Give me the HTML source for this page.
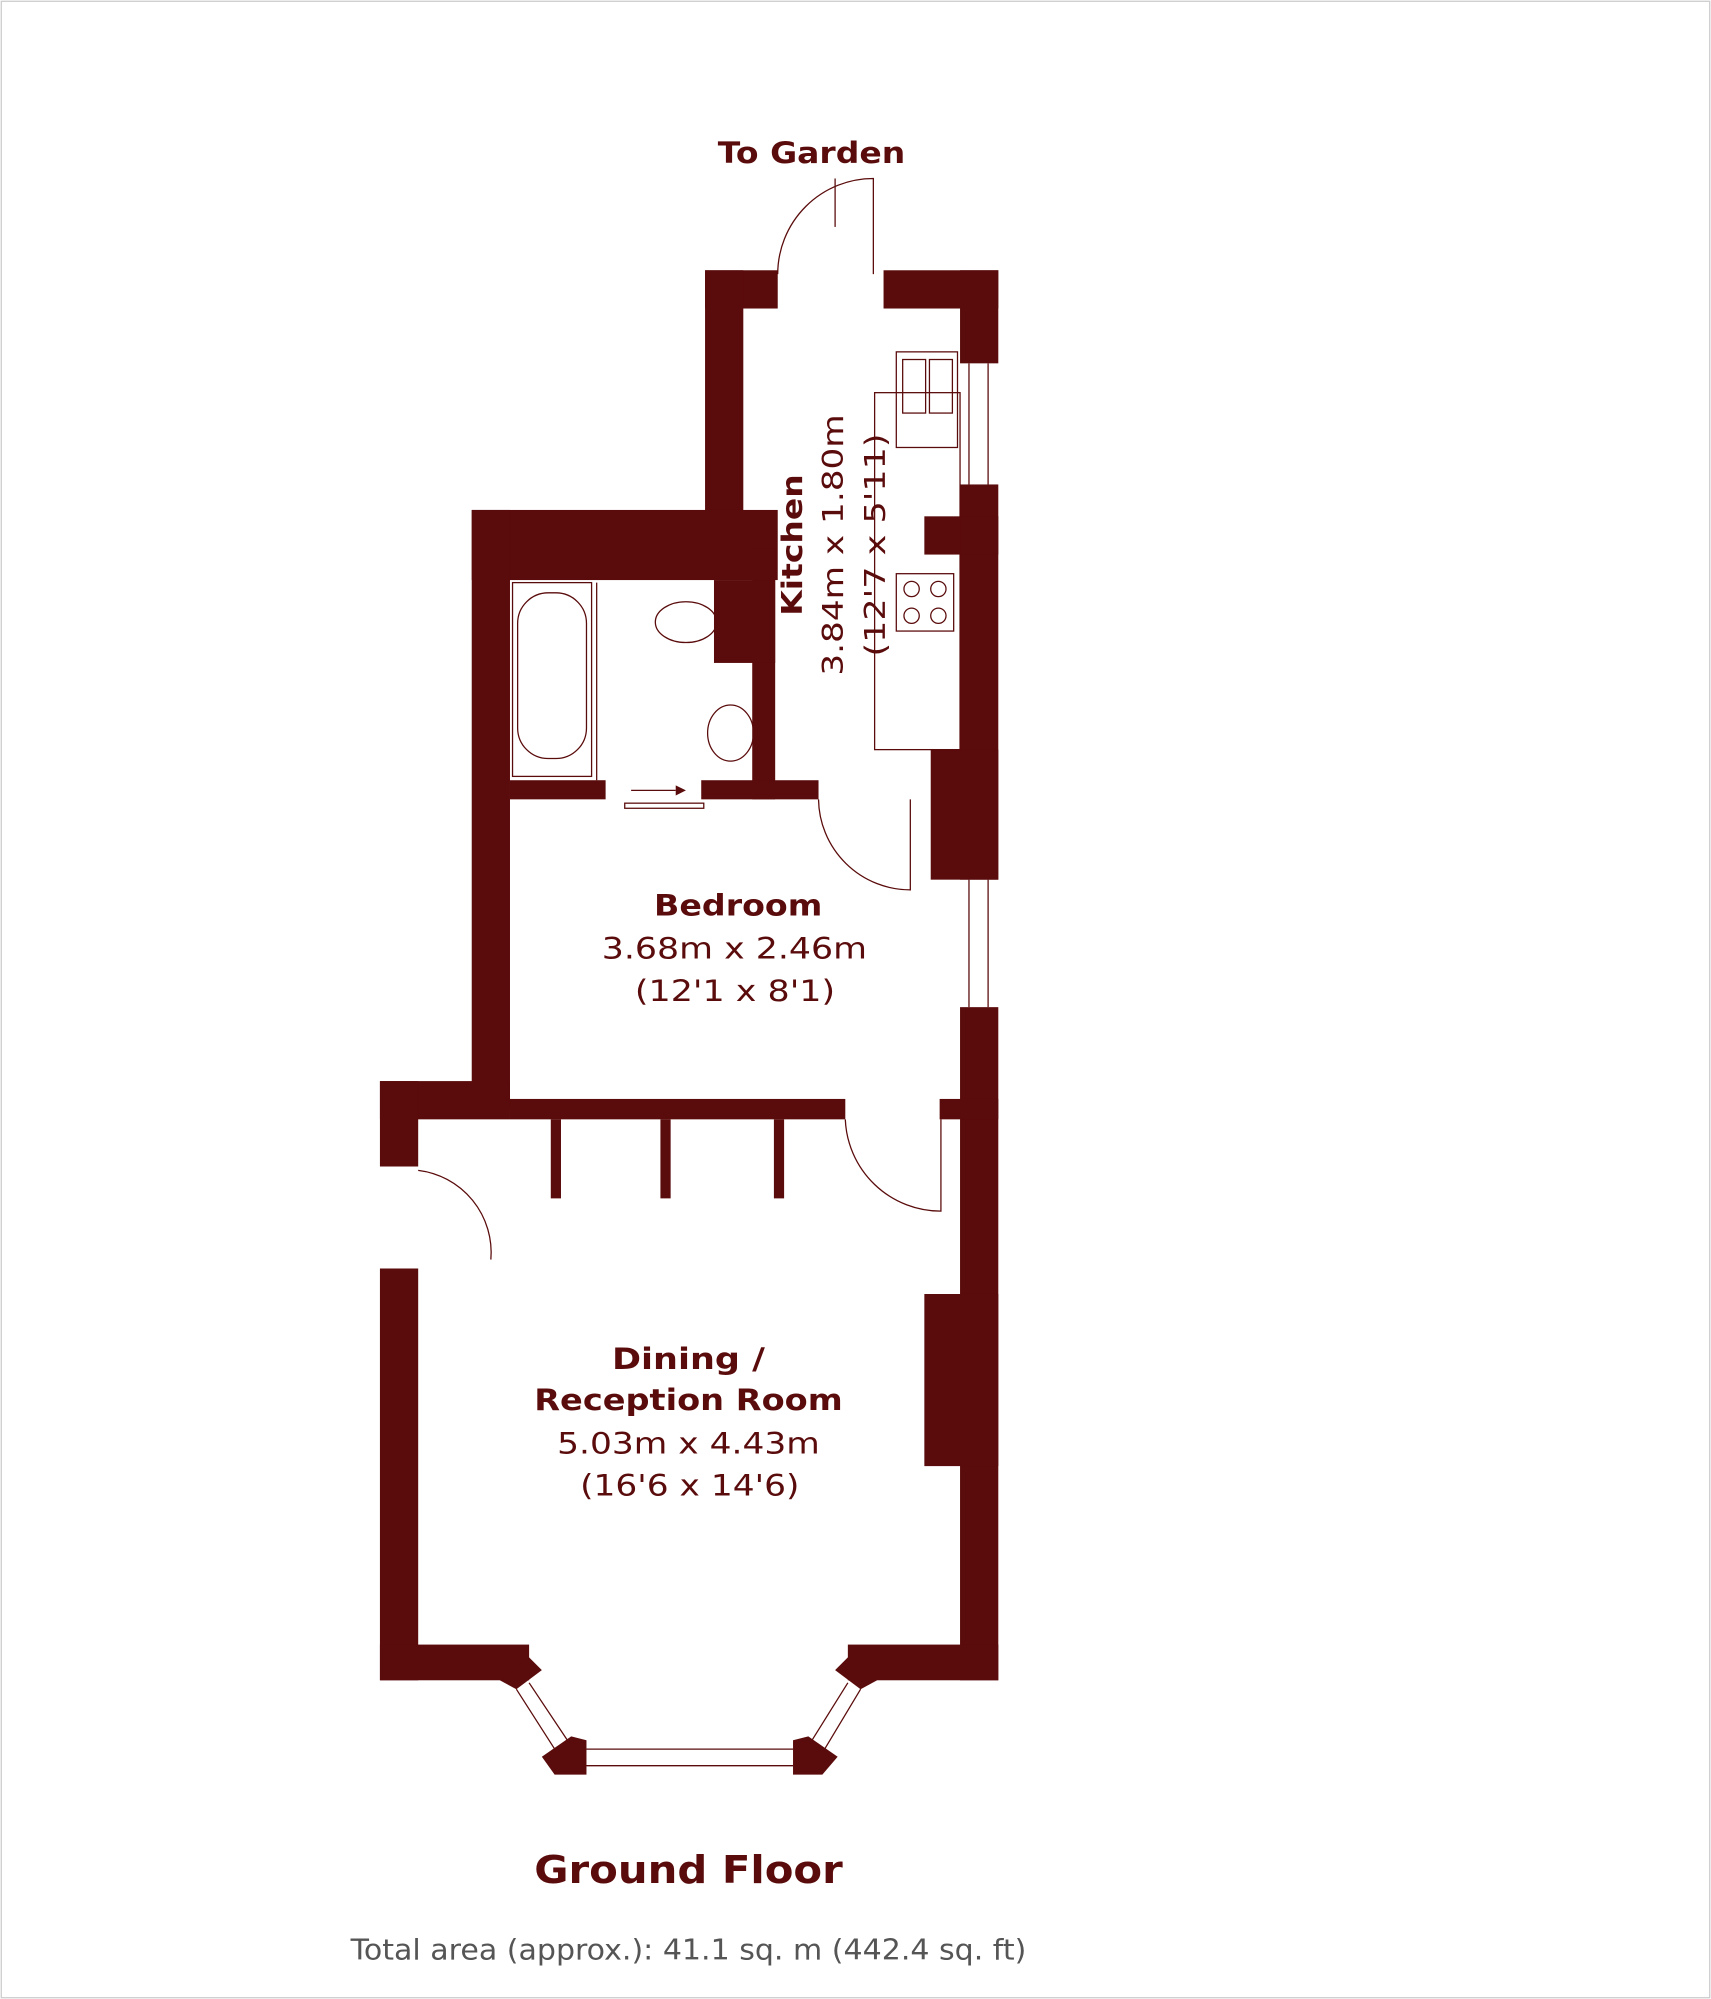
<!DOCTYPE html>
<html><head><meta charset="utf-8"><style>
html,body{margin:0;padding:0;background:#fff}
svg{display:block}
text{font-family:"DejaVu Sans","Liberation Sans",sans-serif;fill:#5a0b0b}
</style></head><body>
<svg width="1711" height="1999" viewBox="0 0 1342 1568" preserveAspectRatio="none" xmlns="http://www.w3.org/2000/svg">
<rect x="0" y="0" width="1342" height="1568" fill="#fff"/>
<rect x="1" y="1" width="1340" height="1566" fill="none" stroke="#ccc" stroke-width="1"/>
<g fill="#5a0b0b">
<rect x="553" y="212" width="57" height="30"/>
<rect x="553" y="212" width="30" height="218"/>
<rect x="693" y="212" width="90" height="30"/>
<rect x="753" y="212" width="30" height="73"/>
<rect x="753" y="380" width="30" height="310"/>
<rect x="725" y="405" width="58" height="30"/>
<rect x="730" y="588" width="53" height="102"/>
<rect x="753" y="790" width="30" height="528"/>
<rect x="725" y="1015" width="58" height="135"/>
<rect x="370" y="400" width="240" height="55"/>
<rect x="370" y="400" width="30" height="470"/>
<rect x="590" y="430" width="18" height="197"/>
<rect x="560" y="455" width="48" height="65"/>
<rect x="400" y="612" width="75" height="15"/>
<rect x="550" y="612" width="92" height="15"/>
<rect x="298" y="848" width="102" height="30"/>
<rect x="400" y="862" width="263" height="16"/>
<rect x="737" y="862" width="46" height="16"/>
<rect x="298" y="848" width="30" height="67"/>
<rect x="298" y="995" width="30" height="323"/>
<rect x="298" y="1290" width="117" height="28"/>
<rect x="665" y="1290" width="118" height="28"/>
<rect x="432" y="878" width="8" height="62"/>
<rect x="518" y="878" width="8" height="62"/>
<rect x="607" y="878" width="8" height="62"/>
<polygon points="392,1318 415,1300 425,1310 405,1325"/>
<polygon points="425,1378 448,1362 460,1365 460,1392 435,1392"/>
<polygon points="622,1365 634,1362 657,1378 645,1392 622,1392"/>
<polygon points="665,1300 688,1318 675,1325 655,1310"/>
</g>
<g fill="none" stroke="#5a0b0b" stroke-width="1">
<line x1="405" y1="1325" x2="437" y2="1375"/><line x1="415" y1="1320" x2="447" y2="1368"/>
<line x1="460" y1="1372" x2="622" y2="1372"/><line x1="460" y1="1385" x2="622" y2="1385"/>
<line x1="675" y1="1325" x2="645" y2="1375"/><line x1="665" y1="1320" x2="635" y2="1368"/>
<line x1="760" y1="285" x2="760" y2="380"/><line x1="775" y1="285" x2="775" y2="380"/>
<line x1="760" y1="690" x2="760" y2="790"/><line x1="775" y1="690" x2="775" y2="790"/>
<path d="M610,215 A75,75 0 0 1 685,140 L685,215"/>
<line x1="655" y1="140" x2="655" y2="178"/>
<path d="M642,627 A72,72 0 0 0 714,698 L714,627"/>
<path d="M663,878 A75,75 0 0 0 738,950 L738,878"/>
<path d="M328,918 A65,65 0 0 1 385,988"/>
<rect x="686" y="308" width="67" height="280"/>
<rect x="703" y="276" width="48" height="75"/>
<rect x="708" y="282" width="18" height="42"/>
<rect x="729" y="282" width="18" height="42"/>
<rect x="703" y="450" width="45" height="45"/>
<circle cx="715" cy="462" r="6"/><circle cx="736" cy="462" r="6"/>
<circle cx="715" cy="483" r="6"/><circle cx="736" cy="483" r="6"/>
<rect x="402" y="457" width="62" height="152"/>
<rect x="406" y="465" width="54" height="130" rx="24"/>
<line x1="468" y1="457" x2="468" y2="612"/>
<ellipse cx="538" cy="488" rx="24" ry="16"/>
<ellipse cx="573" cy="575" rx="18" ry="22"/>
<line x1="495" y1="620" x2="530" y2="620"/>
<rect x="490" y="630" width="62" height="4"/>
</g>
<polygon points="530,616 538,620 530,624" fill="#5a0b0b"/>
<text x="563" y="128" font-size="23" font-weight="bold" textLength="147" lengthAdjust="spacingAndGlyphs">To Garden</text>
<text transform="translate(629,372) rotate(-90)" font-size="22" font-weight="bold" x="-111" textLength="111" lengthAdjust="spacingAndGlyphs" y="0">Kitchen</text>
<text transform="translate(661,325) rotate(-90)" font-size="22" x="-205" textLength="205" lengthAdjust="spacingAndGlyphs">3.84m x 1.80m</text>
<text transform="translate(694,340) rotate(-90)" font-size="22" x="-175" textLength="175" lengthAdjust="spacingAndGlyphs">(12'7 x 5'11)</text>
<text x="513" y="718" font-size="23" font-weight="bold" textLength="132" lengthAdjust="spacingAndGlyphs">Bedroom</text>
<text x="472" y="752" font-size="23" textLength="208" lengthAdjust="spacingAndGlyphs">3.68m x 2.46m</text>
<text x="498" y="785" font-size="23" textLength="157" lengthAdjust="spacingAndGlyphs">(12'1 x 8'1)</text>
<text x="480" y="1074" font-size="23" font-weight="bold" textLength="120" lengthAdjust="spacingAndGlyphs">Dining /</text>
<text x="419" y="1106" font-size="23" font-weight="bold" textLength="242" lengthAdjust="spacingAndGlyphs">Reception Room</text>
<text x="437" y="1140" font-size="23" textLength="206" lengthAdjust="spacingAndGlyphs">5.03m x 4.43m</text>
<text x="455" y="1173" font-size="23" textLength="172" lengthAdjust="spacingAndGlyphs">(16'6 x 14'6)</text>
<text x="419" y="1477" font-size="30" font-weight="bold" textLength="242" lengthAdjust="spacingAndGlyphs">Ground Floor</text>
<text x="275" y="1537" font-size="22" textLength="530" lengthAdjust="spacingAndGlyphs" style="fill:#555">Total area (approx.): 41.1 sq. m (442.4 sq. ft)</text>
</svg>
</body></html>
